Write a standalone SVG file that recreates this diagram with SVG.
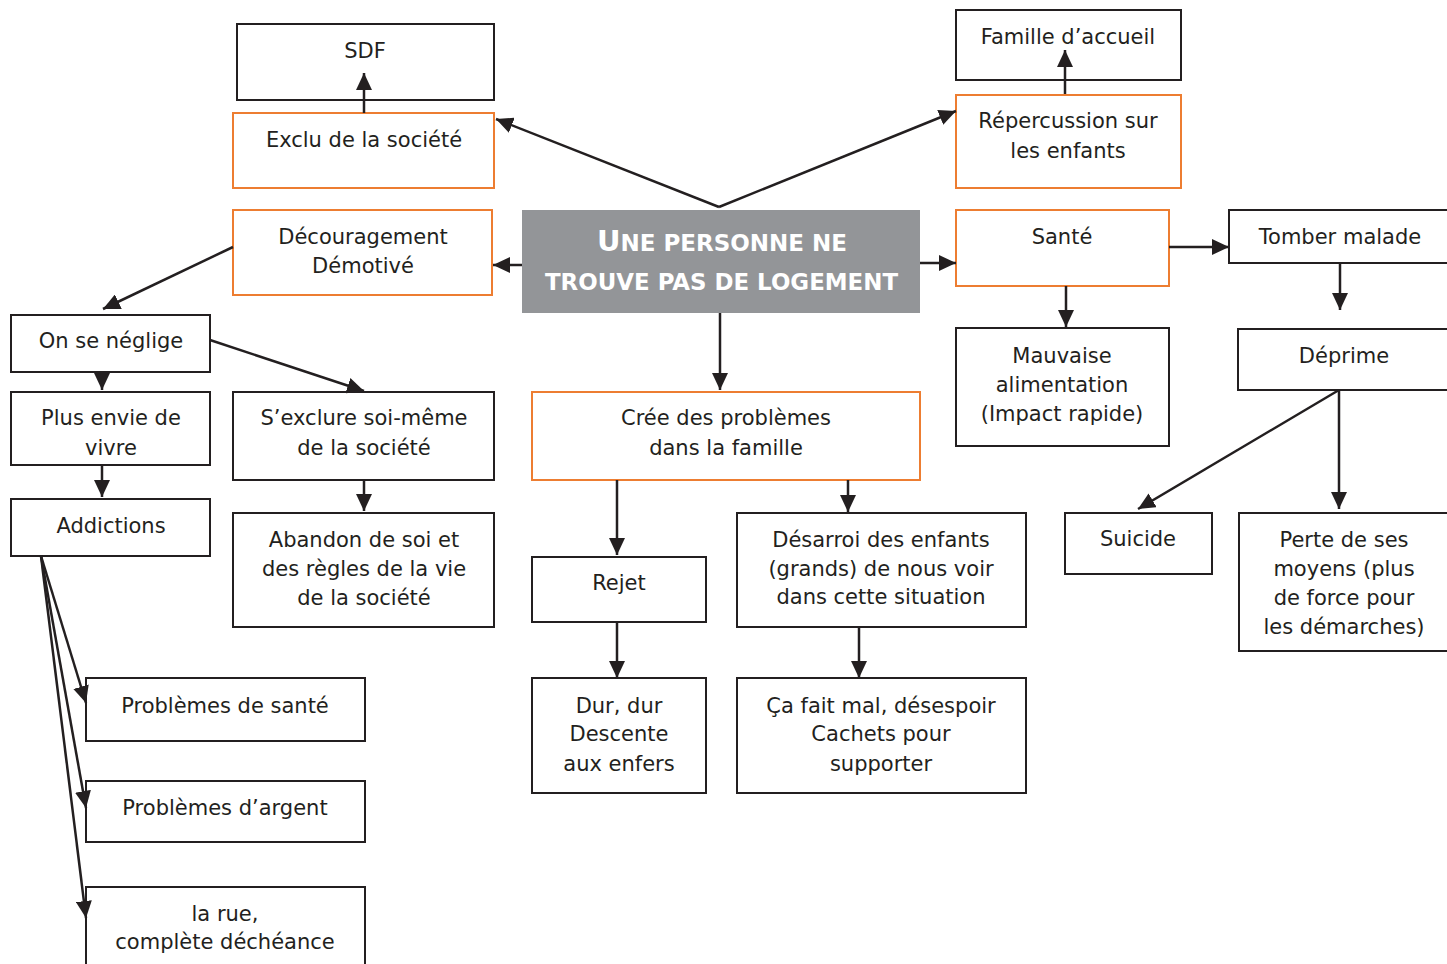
<svg xmlns="http://www.w3.org/2000/svg" width="1447" height="964" viewBox="0 0 1447 964">
<defs>
<marker id="ah" markerUnits="userSpaceOnUse" markerWidth="18" markerHeight="16" refX="17" refY="8" orient="auto">
<path d="M0,0 L17,8 L0,16 z" fill="#231f20"/>
</marker>
<style>
.b{fill:#fff;stroke:#231f20;stroke-width:2}
.o{fill:#fff;stroke:#ed7d31;stroke-width:2}
.t{font-family:"DejaVu Sans","Liberation Sans",sans-serif;font-size:21px;fill:#231f20;text-anchor:middle}
.c{font-family:"DejaVu Sans","Liberation Sans",sans-serif;font-weight:bold;fill:#fff;text-anchor:middle}
.l{stroke:#231f20;stroke-width:2.5;fill:none;marker-end:url(#ah)}
</style>
</defs>
<rect width="1447" height="964" fill="#fff"/>
<g id="central">
<rect x="522" y="210" width="398" height="103" fill="#939598"/>
<text class="c" x="722" y="251" font-size="23"><tspan font-size="29">U</tspan>NE PERSONNE NE</text>
<text class="c" x="721.5" y="290" font-size="23" textLength="353" lengthAdjust="spacingAndGlyphs">TROUVE PAS DE LOGEMENT</text>
</g>
<g id="sdf"><rect class="b" x="237" y="24" width="257" height="76"/><text class="t" x="365" y="58">SDF</text></g>
<g id="exclu"><rect class="o" x="233" y="113" width="261" height="75"/><text class="t" x="364" y="147">Exclu de la société</text></g>
<g id="famille"><rect class="b" x="956" y="10" width="225" height="70"/><text class="t" x="1068" y="44">Famille d’accueil</text></g>
<g id="repercussion"><rect class="o" x="956" y="95" width="225" height="93"/><text class="t" x="1068" y="128">Répercussion sur</text><text class="t" x="1068" y="158">les enfants</text></g>
<g id="decouragement"><rect class="o" x="233" y="210" width="259" height="85"/><text class="t" x="363" y="244">Découragement</text><text class="t" x="363" y="273">Démotivé</text></g>
<g id="sante"><rect class="o" x="956" y="210" width="213" height="76"/><text class="t" x="1062" y="244">Santé</text></g>
<g id="tomber"><rect class="b" x="1229" y="210" width="230" height="53"/><text class="t" x="1340" y="244">Tomber malade</text></g>
<g id="mauvaise"><rect class="b" x="956" y="328" width="213" height="118"/><text class="t" x="1062" y="363">Mauvaise</text><text class="t" x="1062" y="392">alimentation</text><text class="t" x="1062" y="421">(Impact rapide)</text></g>
<g id="deprime"><rect class="b" x="1238" y="329" width="221" height="61"/><text class="t" x="1344" y="363">Déprime</text></g>
<g id="neglige"><rect class="b" x="11" y="315" width="199" height="57"/><text class="t" x="111" y="348">On se néglige</text></g>
<g id="plusenvie"><rect class="b" x="11" y="392" width="199" height="73"/><text class="t" x="111" y="425">Plus envie de</text><text class="t" x="111" y="455">vivre</text></g>
<g id="addictions"><rect class="b" x="11" y="499" width="199" height="57"/><text class="t" x="111" y="533">Addictions</text></g>
<g id="sexclure"><rect class="b" x="233" y="392" width="261" height="88"/><text class="t" x="364" y="425">S’exclure soi-même</text><text class="t" x="364" y="455">de la société</text></g>
<g id="abandon"><rect class="b" x="233" y="513" width="261" height="114"/><text class="t" x="364" y="547">Abandon de soi et</text><text class="t" x="364" y="576">des règles de la vie</text><text class="t" x="364" y="605">de la société</text></g>
<g id="cree"><rect class="o" x="532" y="392" width="388" height="88"/><text class="t" x="726" y="425">Crée des problèmes</text><text class="t" x="726" y="455">dans la famille</text></g>
<g id="rejet"><rect class="b" x="532" y="557" width="174" height="65"/><text class="t" x="619" y="590">Rejet</text></g>
<g id="dur"><rect class="b" x="532" y="678" width="174" height="115"/><text class="t" x="619" y="713">Dur, dur</text><text class="t" x="619" y="741">Descente</text><text class="t" x="619" y="771">aux enfers</text></g>
<g id="desarroi"><rect class="b" x="737" y="513" width="289" height="114"/><text class="t" x="881" y="547">Désarroi des enfants</text><text class="t" x="881" y="576">(grands) de nous voir</text><text class="t" x="881" y="604">dans cette situation</text></g>
<g id="cafaitmal"><rect class="b" x="737" y="678" width="289" height="115"/><text class="t" x="881" y="713">Ça fait mal, désespoir</text><text class="t" x="881" y="741">Cachets pour</text><text class="t" x="881" y="771">supporter</text></g>
<g id="suicide"><rect class="b" x="1065" y="513" width="147" height="61"/><text class="t" x="1138" y="546">Suicide</text></g>
<g id="perte"><rect class="b" x="1239" y="513" width="220" height="138"/><text class="t" x="1344" y="547">Perte de ses</text><text class="t" x="1344" y="576">moyens (plus</text><text class="t" x="1344" y="605">de force pour</text><text class="t" x="1344" y="634">les démarches)</text></g>
<g id="probsante"><rect class="b" x="86" y="678" width="279" height="63"/><text class="t" x="225" y="713">Problèmes de santé</text></g>
<g id="probargent"><rect class="b" x="86" y="781" width="279" height="61"/><text class="t" x="225" y="815">Problèmes d’argent</text></g>
<g id="rue"><rect class="b" x="86" y="887" width="279" height="90"/><text class="t" x="225" y="921">la rue,</text><text class="t" x="225" y="949">complète déchéance</text></g>
<g id="connectors">
<line class="l" x1="719" y1="207" x2="496" y2="119"/>
<line class="l" x1="719" y1="207" x2="956" y2="111"/>
<line class="l" x1="364" y1="113" x2="364" y2="73"/>
<line class="l" x1="1065" y1="94" x2="1065" y2="50"/>
<line class="l" x1="522" y1="265" x2="493" y2="265"/>
<line class="l" x1="920" y1="263" x2="956" y2="263"/>
<line class="l" x1="720" y1="313" x2="720" y2="390"/>
<line class="l" x1="233" y1="247" x2="103" y2="309"/>
<line class="l" x1="210" y1="340" x2="364" y2="391"/>
<line class="l" x1="102" y1="372" x2="102" y2="390"/>
<line class="l" x1="102" y1="465" x2="102" y2="497"/>
<line class="l" x1="364" y1="480" x2="364" y2="511"/>
<line class="l" x1="41" y1="556" x2="86" y2="703"/>
<line class="l" x1="41" y1="556" x2="86" y2="808"/>
<line class="l" x1="41" y1="556" x2="86" y2="918"/>
<line class="l" x1="617" y1="480" x2="617" y2="555"/>
<line class="l" x1="848" y1="480" x2="848" y2="512"/>
<line class="l" x1="617" y1="622" x2="617" y2="678"/>
<line class="l" x1="859" y1="627" x2="859" y2="678"/>
<line class="l" x1="1169" y1="247" x2="1229" y2="247"/>
<line class="l" x1="1066" y1="286" x2="1066" y2="327"/>
<line class="l" x1="1340" y1="263" x2="1340" y2="310"/>
<line class="l" x1="1339" y1="390" x2="1138" y2="509"/>
<line class="l" x1="1339" y1="390" x2="1339" y2="509"/>
</g>
</svg>
